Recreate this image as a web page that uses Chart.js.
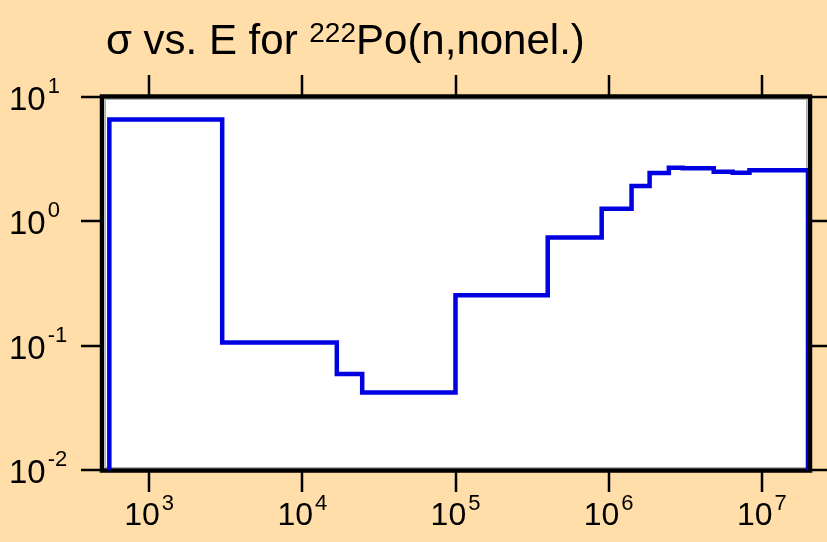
<!DOCTYPE html>
<html>
<head>
<meta charset="utf-8">
<script src="https://cdn.jsdelivr.net/npm/chart.js@4"></script>
<style>
  html, body { margin: 0; padding: 0; background: #ffdeaa; }
  canvas { display: block; }
</style>
</head>
<body>
<canvas id="chart" width="827" height="542"></canvas>
<script>
// group boundaries (eV) and cross section per group (b)
const binEdges = [550, 3000, 16800, 24600, 1.0e5, 4.0e5, 9.0e5, 1.41e6, 1.85e6,
                  2.47e6, 3.04e6, 4.85e6, 6.45e6, 8.3e6, 2.0e7];
const sigmaValues = [6.6, 0.106, 0.0592, 0.042, 0.254, 0.74, 1.265, 1.92, 2.45,
                     2.70, 2.67, 2.51, 2.46, 2.57];

const xTickValues = [1e3, 1e4, 1e5, 1e6, 1e7];
const xTickExps = ['3', '4', '5', '6', '7'];
const yTickValues = [10, 1, 0.1, 0.01];
const yTickExps = ['1', '0', '-1', '-2'];

const X_MIN = 500, X_MAX = 2e7;
const Y_MIN = 0.01, Y_MAX = 10;

const FONT = '"Liberation Sans", Arial, Helvetica, sans-serif';

// histogram outline: up from the floor, across each group, back down at the end
const points = [{ x: binEdges[0], y: Y_MIN }];
sigmaValues.forEach((s, i) => points.push({ x: binEdges[i], y: s }));
points.push({ x: binEdges[binEdges.length - 1], y: sigmaValues[sigmaValues.length - 1] });
points.push({ x: binEdges[binEdges.length - 1], y: Y_MIN });

const framePlugin = {
  id: 'frame',
  beforeDraw(chart) {
    const { ctx, chartArea: a } = chart;
    ctx.save();
    ctx.fillStyle = '#ffdeaa';
    ctx.fillRect(0, 0, chart.width, chart.height);
    ctx.fillStyle = '#ffffff';
    ctx.fillRect(a.left, a.top, a.right - a.left, a.bottom - a.top);
    ctx.restore();
  },
  beforeDatasetsDraw(chart) {
    const { ctx, chartArea: a, scales } = chart;
    ctx.save();

    // thin grey edge inside the box
    ctx.strokeStyle = '#b0b0b0';
    ctx.lineWidth = 1;
    ctx.strokeRect(a.left + 2.5, a.top + 2.5, a.right - a.left - 4, a.bottom - a.top - 5);

    // heavy black box
    ctx.strokeStyle = '#000';
    ctx.lineWidth = 4.5;
    ctx.strokeRect(a.left - 1, a.top - 0.5, a.right - a.left + 3, a.bottom - a.top + 1);

    // tick marks, pointing outward
    ctx.lineWidth = 2.5;
    ctx.beginPath();
    xTickValues.forEach(v => {
      const px = Math.round(scales.x.getPixelForValue(v));
      ctx.moveTo(px, a.top - 2); ctx.lineTo(px, a.top - 22);
      ctx.moveTo(px, a.bottom + 2); ctx.lineTo(px, a.bottom + 22);
    });
    yTickValues.forEach(v => {
      const py = Math.round(scales.y.getPixelForValue(v));
      ctx.moveTo(a.left - 2, py); ctx.lineTo(a.left - 22, py);
      ctx.moveTo(a.right + 3, py); ctx.lineTo(chart.width, py);
    });
    ctx.stroke();

    ctx.fillStyle = '#000';
    ctx.textAlign = 'left';
    ctx.textBaseline = 'alphabetic';

    // y labels: 10 with exponent
    yTickValues.forEach((v, i) => {
      const py = scales.y.getPixelForValue(v);
      ctx.font = '33px ' + FONT;
      ctx.fillText('10', 9, py + 13);
      const w = ctx.measureText('10').width;
      ctx.font = '22px ' + FONT;
      ctx.fillText(yTickExps[i], 9 + w + 2, py - 4);
    });

    // x labels, centred under their ticks
    xTickValues.forEach((v, i) => {
      const px = scales.x.getPixelForValue(v);
      ctx.font = '32px ' + FONT;
      const w10 = ctx.measureText('10').width;
      ctx.font = '22px ' + FONT;
      const wExp = ctx.measureText(xTickExps[i]).width;
      const x0 = px - (w10 + 2 + wExp) / 2;
      ctx.font = '32px ' + FONT;
      ctx.fillText('10', x0, a.bottom + 55);
      ctx.font = '22px ' + FONT;
      ctx.fillText(xTickExps[i], x0 + w10 + 2, a.bottom + 40);
    });

    // title with superscript mass number
    let tx = 106;
    ctx.font = '42px ' + FONT;
    const part1 = '\u03c3 vs. E for ';
    ctx.fillText(part1, tx, 54);
    tx += ctx.measureText(part1).width;
    ctx.font = '28px ' + FONT;
    ctx.fillText('222', tx, 42);
    tx += ctx.measureText('222').width;
    ctx.font = '42px ' + FONT;
    ctx.fillText('Po(n,nonel.)', tx, 54);

    ctx.restore();
  }
};

new Chart(document.getElementById('chart'), {
  type: 'line',
  data: {
    datasets: [{
      data: points,
      stepped: 'before',
      borderColor: '#0000e0',
      borderWidth: 4.5,
      pointRadius: 0,
      fill: false
    }]
  },
  options: {
    responsive: false,
    animation: false,
    devicePixelRatio: 1,
    layout: { padding: { left: 103, top: 97, right: 19, bottom: 72 } },
    plugins: { legend: { display: false }, tooltip: { enabled: false } },
    scales: {
      x: { type: 'logarithmic', min: X_MIN, max: X_MAX, display: false },
      y: { type: 'logarithmic', min: Y_MIN, max: Y_MAX, display: false }
    }
  },
  plugins: [framePlugin]
});
</script>
</body>
</html>
